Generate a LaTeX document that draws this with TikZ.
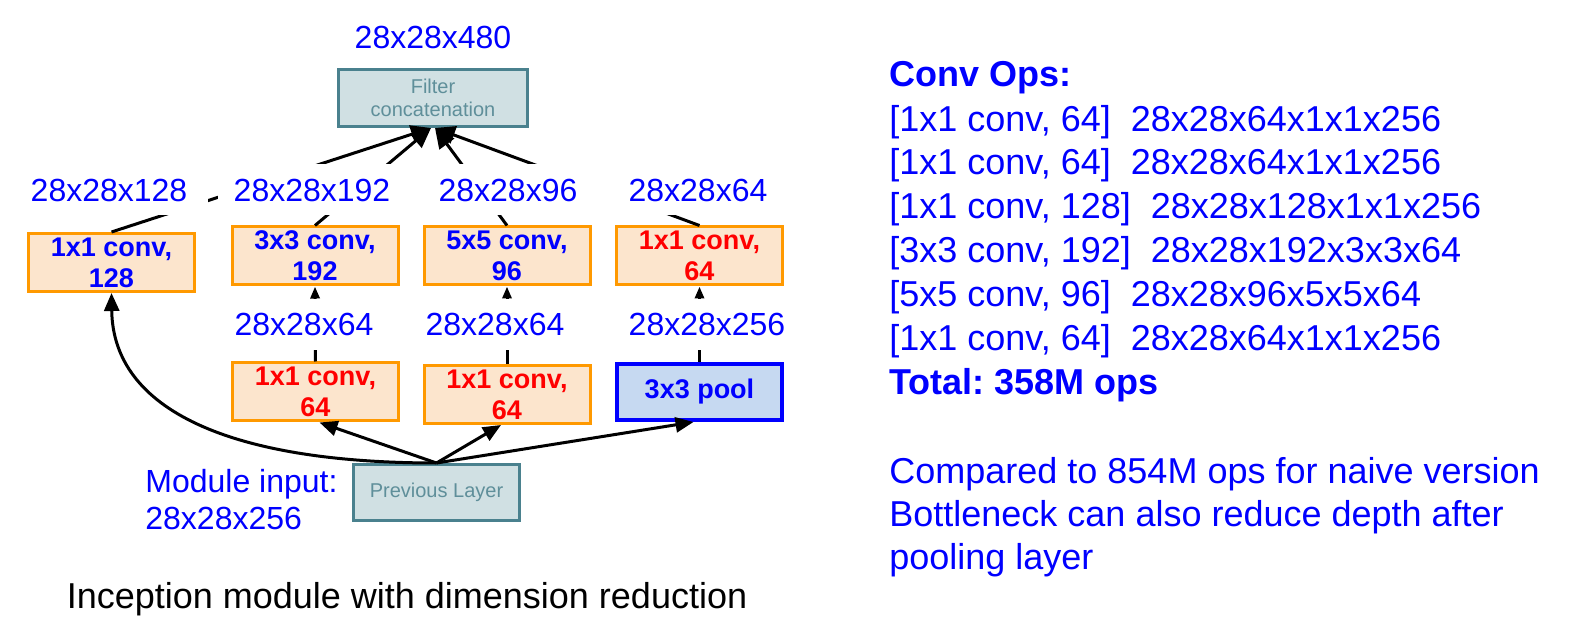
\documentclass[tikz,border=0pt]{standalone}
\usepackage{fontspec}
\setmainfont{Liberation Sans}
\usetikzlibrary{arrows.meta}
\definecolor{orng}{HTML}{FF9900}
\definecolor{peach}{HTML}{FCE5CD}
\definecolor{poolf}{HTML}{C6D9F1}
\definecolor{tealf}{HTML}{D0E0E3}
\definecolor{tealb}{HTML}{4A818E}
\definecolor{grayt}{HTML}{5F8F9A}
\definecolor{pblue}{HTML}{0000FF}
\definecolor{pred}{HTML}{FF0000}
\newcommand\lblfont{\fontsize{16pt}{18pt}\selectfont}
\newcommand\bxfont{\fontsize{13.5pt}{15.5pt}\selectfont\bfseries}
\newcommand\gyfont{\fontsize{10pt}{11.5pt}\selectfont}
\newcommand\rtfont{\fontsize{18pt}{21pt}\selectfont}
\newcommand\capfont{\fontsize{18pt}{21pt}\selectfont}
\frenchspacing
\begin{document}
\begin{tikzpicture}[x=0.5pt,y=-0.5pt,
  convbox/.style={draw=orng, fill=peach, line width=1.5pt, minimum width=83pt, minimum height=29pt, inner sep=0pt, align=center, font=\bxfont},
  poolbox/.style={draw=pblue, fill=poolf, line width=2pt, minimum width=82.5pt, minimum height=28pt, inner sep=0pt, font=\bxfont, text=pblue},
  graybox/.style={draw=tealb, fill=tealf, line width=1.5pt, minimum height=28.5pt, inner sep=0pt, align=center, font=\gyfont, text=grayt},
  dimlbl/.style={fill=white, text=pblue, font=\lblfont, minimum height=25.5pt, minimum width=95pt, inner sep=0pt},
  rtline/.style={anchor=base west, text=pblue, font=\rtfont, inner sep=0pt},
  toparr/.style={line width=1.5pt, -{Triangle[length=10pt,width=9pt]}},
  midarr/.style={line width=1.5pt, -{Triangle[length=6pt,width=4.5pt]}},
  botarr/.style={line width=1.5pt, -{Triangle[length=9pt,width=7.5pt]}}
]
\fill[white] (0,0) rectangle (1576,620);
\useasboundingbox (0,0) rectangle (1576,620);

% boxes
\node[graybox, minimum width=94.5pt] (filter) at (433,98) {Filter\\concatenation};
\node[convbox, text=pblue] (c128) at (111.5,262.5) {1x1 conv,\\128};
\node[convbox, text=pblue] (c192) at (315,256) {3x3 conv,\\192};
\node[convbox, text=pblue] (c96) at (507,256) {5x5 conv,\\96};
\node[convbox, text=pred] (c64) at (699.5,256) {1x1 conv,\\64};
\node[convbox, text=pred] (r64a) at (315.5,392) {1x1 conv,\\64};
\node[convbox, text=pred] (r64b) at (507,394.5) {1x1 conv,\\64};
\node[poolbox] (pool) at (699.5,392) {3x3 pool};
\node[graybox, minimum width=83pt, minimum height=28pt] (prev) at (436.5,492.5) {Previous Layer};

% connectors
\draw[toparr] (c128.north) -- ([xshift=-1pt]filter.south);
\draw[toparr] (c192.north) -- ([xshift=-1pt]filter.south);
\draw[toparr] (c96.north) -- ([xshift=1pt]filter.south);
\draw[toparr] (c64.north) -- ([xshift=1pt]filter.south);
\draw[midarr] (r64a.north) -- (c192.south);
\draw[midarr] (r64b.north) -- (c96.south);
\draw[midarr] (pool.north) -- (c64.south);
\draw[botarr] (prev.north) -- ([xshift=2pt]r64a.south);
\draw[botarr] (prev.north) -- ([xshift=-3pt]r64b.south);
\draw[botarr] (prev.north) -- ([xshift=-3pt]pool.south);
\draw[botarr] (prev.north) .. controls (230,463) and (113,410) .. (c128.south);

% dimension labels
\node[text=pblue, font=\lblfont, inner sep=0pt] (l480) at (433,37) {28x28x480};
\node[dimlbl, minimum width=99pt] (l128) at (109,190) {28x28x128};
\node[dimlbl, minimum width=94pt] (l192) at (312,190) {28x28x192};
\node[dimlbl] (l96) at (508,190) {28x28x96};
\node[dimlbl, minimum width=98pt] (l64) at (698,190) {28x28x64};
\node[dimlbl] (m64a) at (304,324.5) {28x28x64};
\node[dimlbl] (m64b) at (495,324.5) {28x28x64};
\node[dimlbl] (m256) at (707,324.5) {28x28x256};
\node[anchor=base west, text=pblue, font=\lblfont, inner sep=0pt] (mod1) at (145,493) {Module input:};
\node[anchor=base west, text=pblue, font=\lblfont, inner sep=0pt] (mod2) at (145,530) {28x28x256};

% caption
\node[anchor=base, font=\capfont, inner sep=0pt] (cap) at (407,608) {Inception module with dimension reduction};

% right text
\node[rtline, font=\rtfont\bfseries] (t0) at (889,87) {Conv Ops:};
\node[rtline] (t1) at (889,132) {[1x1 conv, 64]\ \ 28x28x64x1x1x256};
\node[rtline] (t2) at (889,175) {[1x1 conv, 64]\ \ 28x28x64x1x1x256};
\node[rtline] (t3) at (889,219) {[1x1 conv, 128]\ \ 28x28x128x1x1x256};
\node[rtline] (t4) at (889,263) {[3x3 conv, 192]\ \ 28x28x192x3x3x64};
\node[rtline] (t5) at (889,307) {[5x5 conv, 96]\ \ 28x28x96x5x5x64};
\node[rtline] (t6) at (889,351) {[1x1 conv, 64]\ \ 28x28x64x1x1x256};
\node[rtline, font=\rtfont\bfseries] (t7) at (889,395) {Total: 358M ops};
\node[rtline] (b1) at (889,483) {Compared to 854M ops for naive version};
\node[rtline] (b2) at (889,526) {Bottleneck can also reduce depth after};
\node[rtline] (b3) at (889,569) {pooling layer};
\end{tikzpicture}
\end{document}
